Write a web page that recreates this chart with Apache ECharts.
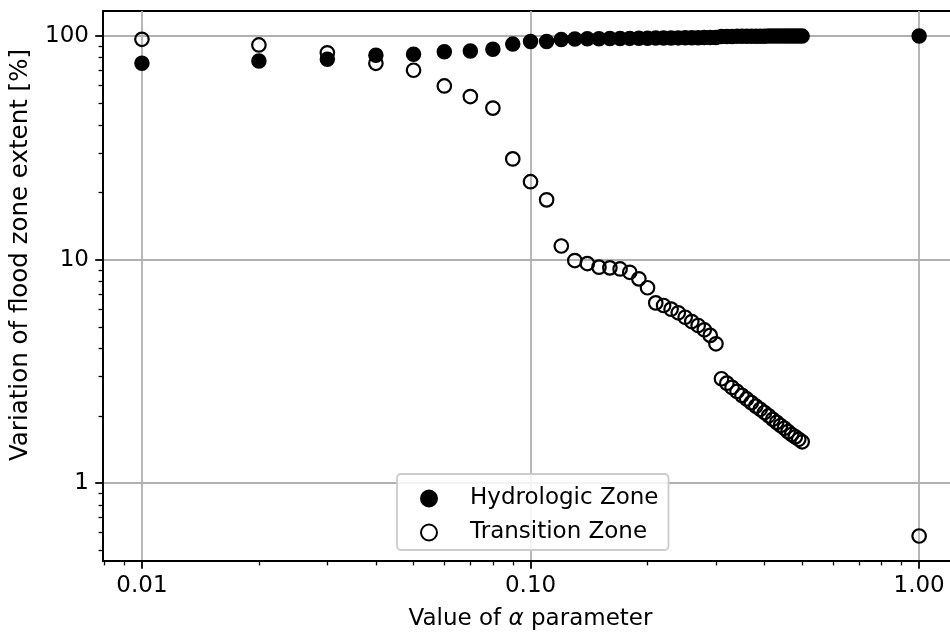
<!DOCTYPE html>
<html>
<head>
<meta charset="utf-8">
<script src="https://cdn.jsdelivr.net/npm/echarts@6/dist/echarts.min.js"></script>
<style>
html,body{margin:0;padding:0;background:#fff;}
#chart{width:950px;height:635px;}
</style>
</head>
<body>
<div id="chart"></div>
<script>
// alpha parameter values (x)
const alphaValues = [0.01,0.02,0.03,0.04,0.05,0.06,0.07,0.08,0.09,0.10,
  0.11,0.12,0.13,0.14,0.15,0.16,0.17,0.18,0.19,0.20,
  0.21,0.22,0.23,0.24,0.25,0.26,0.27,0.28,0.29,0.30,
  0.31,0.32,0.33,0.34,0.35,0.36,0.37,0.38,0.39,0.40,
  0.41,0.42,0.43,0.44,0.45,0.46,0.47,0.48,0.49,0.50,
  1.00];
// Hydrologic Zone variation [%]
const hydrologic = [75.5,77.3,78.7,82.0,82.8,85.1,85.7,87.2,92.0,94.5,
  94.5,96.5,97.0,97.2,97.3,97.4,97.5,97.6,97.7,97.8,
  97.9,98.0,98.0,98.1,98.2,98.2,98.3,98.4,98.4,98.5,
  99.5,99.6,99.6,99.7,99.7,99.7,99.8,99.8,99.8,99.8,
  99.9,99.9,99.9,99.9,99.9,99.9,99.9,99.9,99.9,99.9,
  100.0];
// Transition Zone variation [%]
const transition = [96.7,91.2,84.1,75.5,70.3,59.8,53.6,47.6,28.2,22.3,
  18.5,11.5,9.9,9.6,9.25,9.18,9.08,8.77,8.2,7.48,
  6.4,6.23,6.0,5.78,5.52,5.28,5.07,4.85,4.58,4.2,
  2.93,2.80,2.68,2.57,2.47,2.38,2.29,2.21,2.14,2.07,
  2.00,1.93,1.87,1.81,1.76,1.70,1.65,1.61,1.57,1.53,
  0.58];
// tick values
const xMajorTicks = [0.01, 0.1, 1];
const xMinorTicks = [0.008,0.009,0.02,0.03,0.04,0.05,0.06,0.07,0.08,0.09,0.2,0.3,0.4,0.5,0.6,0.7,0.8,0.9];
const yMajorTicks = [1, 10, 100];
const yMinorTicks = [0.5,0.6,0.7,0.8,0.9,2,3,4,5,6,7,8,9,20,30,40,50,60,70,80,90];
const xRange = [0.00794, 1.2589];
const yRange = [0.4483, 129.4];

const FONT = 'DejaVu Sans';
const toPairs = (xs, ys) => xs.map((x, i) => [x, ys[i]]);

const chart = echarts.init(document.getElementById('chart'), null, {renderer: 'canvas'});
const majorAxisCommon = {
  type: 'log', logBase: 10,
  axisLine: {show: true, lineStyle: {color: '#000', width: 1.8}},
  splitLine: {show: true, lineStyle: {color: '#b0b0b0', width: 1.8}},
  minorTick: {show: false}, minorSplitLine: {show: false}
};
const minorAxisCommon = {
  type: 'log', logBase: 10,
  axisLine: {show: false},
  axisLabel: {show: false},
  splitLine: {show: false},
  minorTick: {show: false}, minorSplitLine: {show: false}
};
const option = {
  animation: false,
  backgroundColor: '#fff',
  textStyle: {fontFamily: FONT},
  grid: {left: 103, top: 11, width: 855, height: 550, show: true,
         containLabel: false, outerBoundsMode: 'none',
         borderColor: '#000', borderWidth: 1.8, backgroundColor: 'transparent'},
  legend: {
    orient: 'vertical', left: 397, top: 474,
    data: ['Hydrologic Zone', 'Transition Zone'],
    backgroundColor: 'rgba(255,255,255,0.85)',
    borderColor: '#cccccc', borderWidth: 1.8, borderRadius: 4,
    padding: [11, 10, 4, 23],
    itemWidth: 16, itemHeight: 16, itemGap: 7,
    textStyle: {fontFamily: FONT, fontSize: 23, color: '#000', lineHeight: 27, padding: [0, 0, 0, 28]}
  },
  xAxis: [
    Object.assign({}, majorAxisCommon, {
      min: xRange[0], max: xRange[1], position: 'bottom',
      axisTick: {show: true, customValues: xMajorTicks, length: 7.8, lineStyle: {color: '#000', width: 1.8}},
      axisLabel: {customValues: xMajorTicks, formatter: v => Number(v).toFixed(2),
                  fontFamily: FONT, fontSize: 23, color: '#000', margin: 14},
      name: 'Value of {i|α} parameter', nameLocation: 'middle', nameGap: 47,
      nameTextStyle: {fontFamily: FONT, fontSize: 23, color: '#000',
        rich: {i: {fontFamily: FONT, fontStyle: 'italic', fontSize: 23, color: '#000'}}}
    }),
    Object.assign({}, minorAxisCommon, {
      min: xRange[0], max: xRange[1], position: 'bottom',
      axisTick: {show: true, customValues: xMinorTicks, length: 4.4, lineStyle: {color: '#000', width: 1.3}}
    })
  ],
  yAxis: [
    Object.assign({}, majorAxisCommon, {
      min: yRange[0], max: yRange[1], position: 'left',
      axisTick: {show: true, customValues: yMajorTicks, length: 7.8, lineStyle: {color: '#000', width: 1.8}},
      axisLabel: {customValues: yMajorTicks, formatter: v => String(Math.round(v)),
                  fontFamily: FONT, fontSize: 23, color: '#000', margin: 14},
      name: 'Variation of flood zone extent [%]', nameLocation: 'middle', nameGap: 70,
      nameTextStyle: {fontFamily: FONT, fontSize: 24.5, color: '#000', padding: [0, 0, 0, 62]}
    }),
    Object.assign({}, minorAxisCommon, {
      min: yRange[0], max: yRange[1], position: 'left',
      axisTick: {show: true, customValues: yMinorTicks, length: 4.4, lineStyle: {color: '#000', width: 1.3}}
    })
  ],
  series: [
    {
      name: 'Hydrologic Zone', type: 'scatter', xAxisIndex: 0, yAxisIndex: 0,
      data: toPairs(alphaValues, hydrologic),
      symbol: 'circle', symbolSize: 14,
      itemStyle: {color: '#000', borderColor: '#000', borderWidth: 1.5, opacity: 1}
    },
    {
      name: 'Transition Zone', type: 'scatter', xAxisIndex: 0, yAxisIndex: 0,
      data: toPairs(alphaValues, transition),
      symbol: 'circle', symbolSize: 13.5,
      itemStyle: {color: 'rgba(255,255,255,0)', borderColor: '#000', borderWidth: 2.2, opacity: 1}
    }
  ]
};
chart.setOption(option);
</script>
</body>
</html>
